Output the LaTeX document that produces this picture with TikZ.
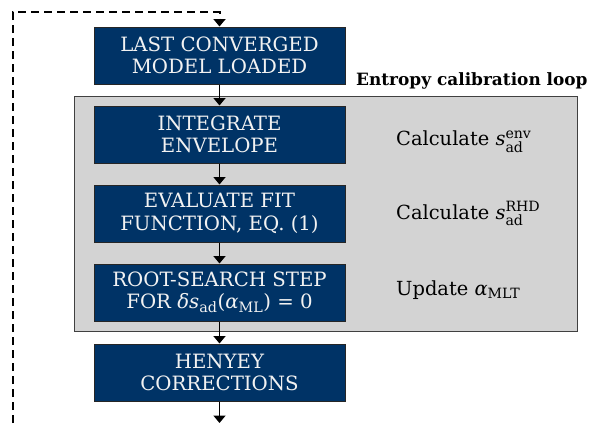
\documentclass[tikz,border=0pt]{standalone}
\usepackage{amsmath}
\usepackage{fontspec}
\setmainfont{DejaVu Serif}
\usetikzlibrary{arrows.meta}
\definecolor{stepblue}{HTML}{003366}
\definecolor{loopgrey}{HTML}{D3D3D3}
\definecolor{steptext}{HTML}{F2F2F2}
% script sizes at roughly 0.72 of the text size
\DeclareMathSizes{19.5}{19.5}{14.2}{10.5}
\DeclareMathSizes{19.8}{19.8}{14.4}{10.6}
\newcommand{\sad}[1]{$\textit{s}^{\text{#1}}_{\text{ad}}$}
\begin{document}
\begin{tikzpicture}[x=1bp,y=-1bp,
  stepbox/.style={draw=black!85, line width=1bp, fill=stepblue, text=steptext,
    minimum width=251bp, minimum height=57bp, align=center, inner sep=0pt,
    font=\fontsize{19.8}{22.4}\selectfont},
  flow/.style={line width=1.6bp, -{Triangle[length=7.5bp,width=12bp]}},
  sidelabel/.style={anchor=base west, inner sep=0pt, font=\fontsize{19.5}{23}\selectfont}]
  \useasboundingbox (0,0) rectangle (600,423);
  % calibration loop frame
  \node[draw=black!75, line width=1.2bp, fill=loopgrey, minimum width=503bp, minimum height=235bp,
        inner sep=0pt, anchor=north west] (loop) at (74,96) {};
  \node[anchor=base west, inner sep=0pt, font=\fontsize{17}{20}\selectfont\bfseries] (looplabel) at (356,85) {Entropy calibration loop};
  % steps
  \node[stepbox] (last) at (219.5,55.5) {LAST CONVERGED\\MODEL LOADED};
  \node[stepbox] (integ) at (219.5,134.5) {INTEGRATE\\ENVELOPE};
  \node[stepbox] (fit) at (219.5,213.5) {EVALUATE FIT\\FUNCTION, EQ. (1)};
  \node[stepbox] (root) at (219.5,292.5) {ROOT-SEARCH STEP\\FOR \textit{δs}$_{\text{ad}}$(\textit{α}$_{\text{ML}}$) = 0};
  \node[stepbox] (henyey) at (219.5,372.5) {HENYEY\\CORRECTIONS};
  % descriptions
  \node[sidelabel] (d1) at (396,145.7) {Calculate \sad{env}};
  \node[sidelabel] (d2) at (396,219) {Calculate \sad{RHD}};
  \node[sidelabel] (d3) at (396,295) {Update \textit{α}$_{\text{MLT}}$};
  % connectors
  \coordinate (out) at (219.5,423);
  \coordinate (retbot) at (13,423);
  \coordinate (rettop) at (13,12);
  \coordinate (retright) at (219.5,12);
  \draw[flow] (last) -- (integ);
  \draw[flow] (integ) -- (fit);
  \draw[flow] (fit) -- (root);
  \draw[flow] (root) -- (henyey);
  \draw[flow] (henyey) -- (out);
  \draw[flow, dashed, dash pattern=on 8bp off 5bp, line width=2bp]
    (retbot) -- (rettop) -- (retright) -- (last.north);
\end{tikzpicture}
\end{document}
